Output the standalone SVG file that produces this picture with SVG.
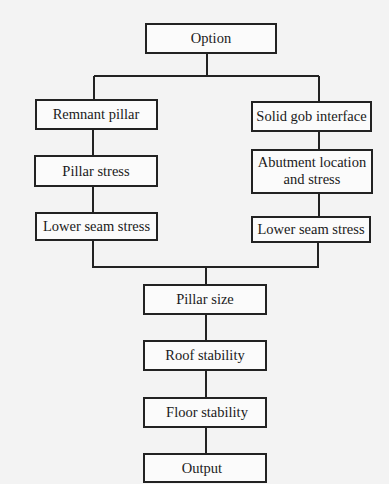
<svg xmlns="http://www.w3.org/2000/svg" width="389" height="484" viewBox="0 0 389 484">
<style>
.box{fill:#fbfbfb;stroke:#222;stroke-width:2}
.t{font-size:14.5px;fill:#1a1a1a;text-anchor:middle}
.c{fill:none;stroke:#222;stroke-width:2}
</style>
<rect width="389" height="484" fill="#f3f3f3"/>
<g id="connectors">
<path class="c" d="M207 53V76M94 76H319M94 76V100M319 76V102"/>
<path class="c" d="M93 129V156M93 186V213M319 131V150M319 193V217"/>
<path class="c" d="M93 240V267H318V242M206 267V285"/>
<path class="c" d="M206 314V341M206 370V398M206 427V454"/>
</g>
<g font-family="'Liberation Serif', 'DejaVu Serif', 'Times New Roman', serif">
<g id="option"><rect class="box" x="146" y="24" width="130" height="29"/><text class="t" x="211" y="43">Option</text></g>
<g id="remnant"><rect class="box" x="36" y="100" width="121" height="29"/><text class="t" x="96" y="119">Remnant pillar</text></g>
<g id="gob"><rect class="box" x="252" y="102" width="119" height="29"/><text class="t" x="311.5" y="121">Solid gob interface</text></g>
<g id="pillarstress"><rect class="box" x="35" y="156" width="122" height="30"/><text class="t" x="96" y="176">Pillar stress</text></g>
<g id="abutment"><rect class="box" x="252" y="150" width="120" height="43"/><text class="t" x="312" y="167">Abutment location</text><text class="t" x="312" y="184">and stress</text></g>
<g id="lowerleft"><rect class="box" x="36" y="213" width="121" height="27"/><text class="t" x="96.5" y="231">Lower seam stress</text></g>
<g id="lowerright"><rect class="box" x="252" y="217" width="118" height="25"/><text class="t" x="311" y="234">Lower seam stress</text></g>
<g id="pillarsize"><rect class="box" x="144" y="285" width="122" height="29"/><text class="t" x="205" y="304">Pillar size</text></g>
<g id="roof"><rect class="box" x="144" y="341" width="122" height="29"/><text class="t" x="205" y="360">Roof stability</text></g>
<g id="floor"><rect class="box" x="144" y="398" width="122" height="29"/><text class="t" x="207" y="417">Floor stability</text></g>
<g id="output"><rect class="box" x="144" y="454" width="122" height="28"/><text class="t" x="202" y="473">Output</text></g>
</g>
</svg>
